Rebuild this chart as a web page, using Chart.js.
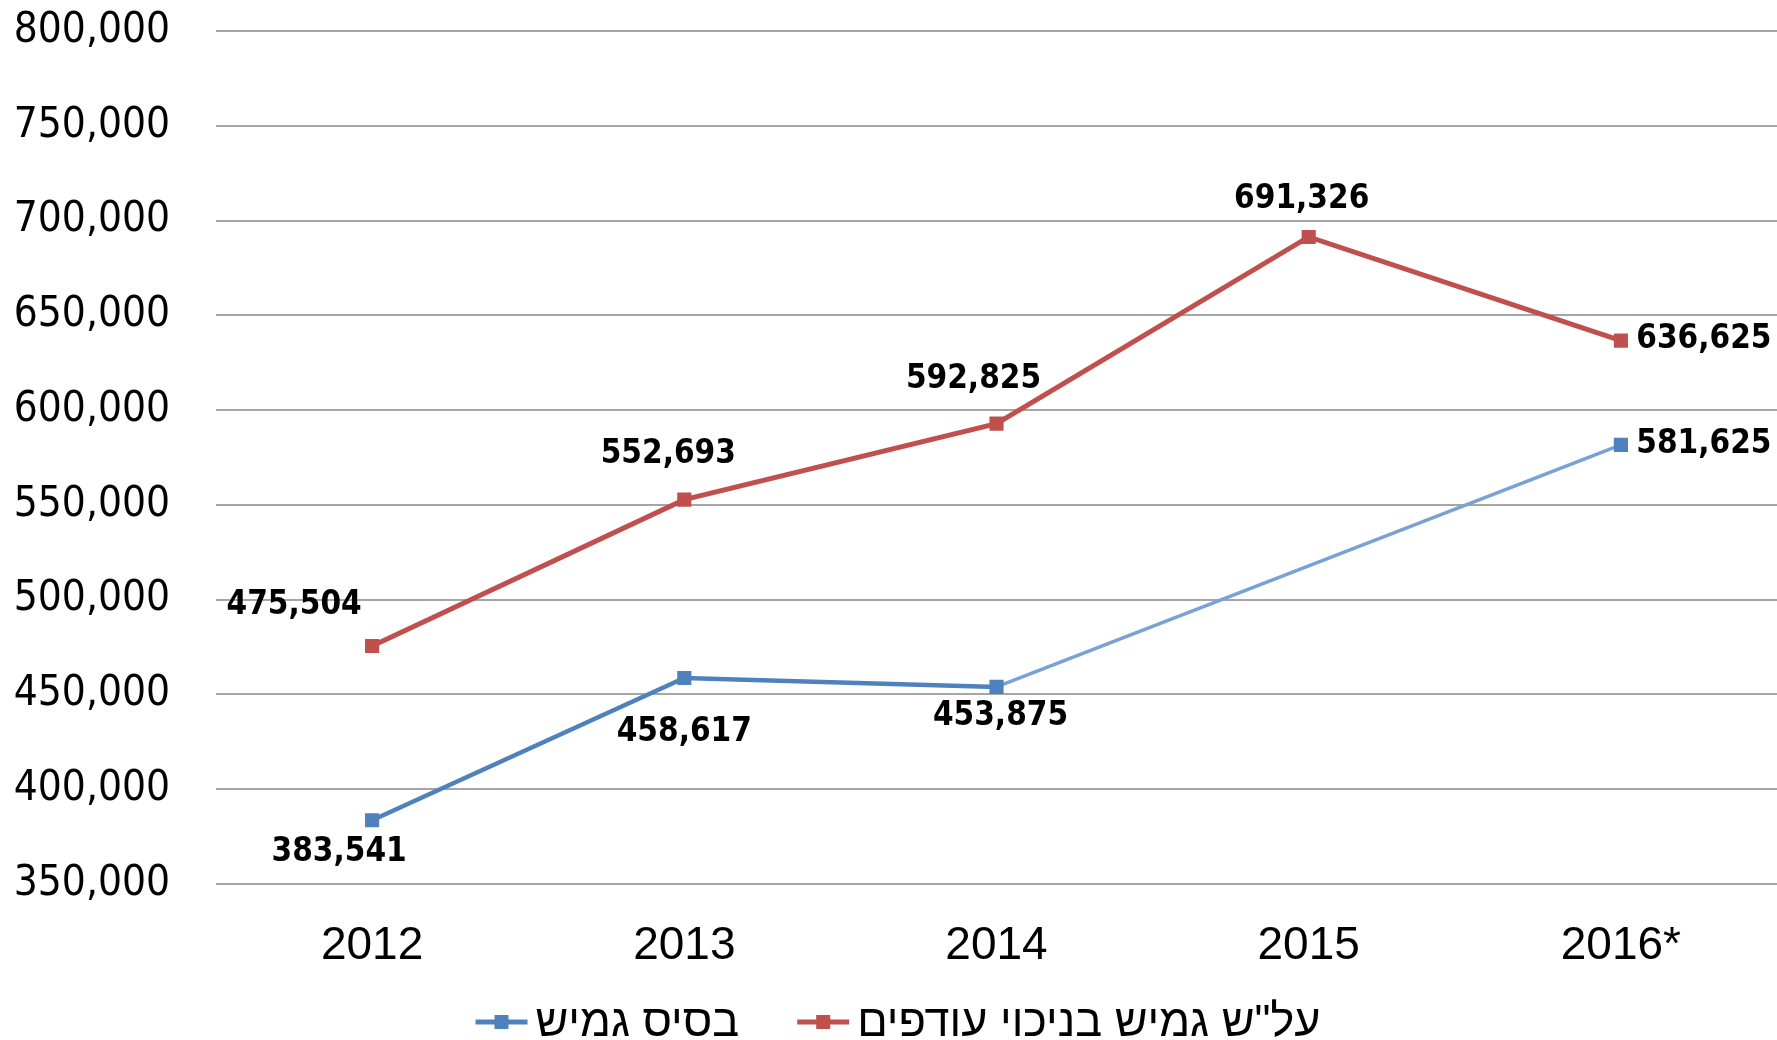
<!DOCTYPE html>
<html>
<head>
<meta charset="utf-8">
<script src="https://cdn.jsdelivr.net/npm/chart.js@4"></script>
<style>
  html, body { margin: 0; padding: 0; background: #fff; }
  #wrap { width: 1777px; height: 1040px; }
</style>
</head>
<body>
<div id="wrap"><canvas id="chart" width="1777" height="1040"></canvas></div>
<script>
// ===== DATA =====
const years = ['2012', '2013', '2014', '2015', '2016*'];
const flexBase = [383541, 458617, 453875, null, 581625];          // בסיס גמיש
const flexNetSurplus = [475504, 552693, 592825, 691326, 636625];  // על"ש גמיש בניכוי עודפים
const yTicks = [350000, 400000, 450000, 500000, 550000, 600000, 650000, 700000, 750000, 800000];

const seriesNames = ['בסיס גמיש', 'על"ש גמיש בניכוי עודפים'];

const BLUE = '#4f81bd';
const BLUE_LIGHT = '#78a2d6';
const RED = '#c0504d';

const NUM_FONT = "'DejaVu Sans Condensed', 'DejaVu Sans', sans-serif";
const TEXT_FONT = "'Liberation Sans', Arial, sans-serif";

// label placement relative to each point (centre of text)
const labelOffsets = [
    [[-33, 32], [0, 54], [4, 29], null, [83, 0]],
    [[-78, -41], [-16, -45], [-23, -44], [-7, -38], [83, -1]]
];

const fmt = v => v.toLocaleString('en-US');

// no extra padding around the axes, the plot area is set by layout.padding
const noPad = s => {
    s.paddingTop = 0; s.paddingBottom = 0;
    s.paddingLeft = 0; s.paddingRight = 0;
};

// draws the value next to every point
const valueLabels = {
    id: 'valueLabels',
    afterDatasetsDraw(chart) {
        const ctx = chart.ctx;
        ctx.save();
        ctx.font = `bold 33px ${NUM_FONT}`;
        ctx.fillStyle = '#000';
        ctx.textAlign = 'center';
        ctx.textBaseline = 'middle';
        chart.data.datasets.forEach((ds, di) => {
            const meta = chart.getDatasetMeta(di);
            meta.data.forEach((pt, i) => {
                const v = ds.data[i];
                const off = labelOffsets[di][i];
                if (v == null || !off) return;
                ctx.fillText(fmt(v), pt.x + off[0], pt.y + off[1]);
            });
        });
        ctx.restore();
    }
};

// legend at the bottom: line + square marker, then the Hebrew text
const bottomLegend = {
    id: 'bottomLegend',
    afterDraw(chart) {
        const ctx = chart.ctx;
        const y = 1022;
        const markerW = 52, gapText = 8, gapItem = 58;
        ctx.save();
        ctx.font = `45px ${TEXT_FONT}`;
        ctx.textBaseline = 'middle';
        ctx.textAlign = 'left';
        const items = chart.data.datasets.map(ds => ({
            text: ds.label,
            color: ds.borderColor,
            w: ctx.measureText(ds.label).width
        }));
        let total = 0;
        items.forEach((it, i) => {
            total += markerW + gapText + it.w + (i ? gapItem : 0);
        });
        let x = 898 - total / 2;
        items.forEach(it => {
            ctx.strokeStyle = it.color;
            ctx.lineWidth = 5;
            ctx.beginPath();
            ctx.moveTo(x, y);
            ctx.lineTo(x + markerW, y);
            ctx.stroke();
            ctx.fillStyle = it.color;
            ctx.fillRect(x + markerW / 2 - 7, y - 7, 14, 14);
            ctx.fillStyle = '#000';
            ctx.fillText(it.text, x + markerW + gapText, y + 2);
            x += markerW + gapText + it.w + gapItem;
        });
        ctx.restore();
    }
};

new Chart(document.getElementById('chart').getContext('2d'), {
    type: 'line',
    data: {
        labels: years,
        datasets: [
            {
                label: seriesNames[0],
                data: flexBase,
                borderColor: BLUE,
                backgroundColor: BLUE,
                borderWidth: 4.5,
                spanGaps: true,
                pointStyle: 'rect',
                pointRadius: 10,
                pointBorderWidth: 0,
                tension: 0,
                segment: {
                    borderColor: c => c.p0DataIndex >= 2 ? BLUE_LIGHT : BLUE,
                    borderWidth: c => c.p0DataIndex >= 2 ? 3.5 : 4.5
                }
            },
            {
                label: seriesNames[1],
                data: flexNetSurplus,
                borderColor: RED,
                backgroundColor: RED,
                borderWidth: 5,
                pointStyle: 'rect',
                pointRadius: 10,
                pointBorderWidth: 0,
                tension: 0
            }
        ]
    },
    options: {
        responsive: false,
        animation: false,
        layout: {
            autoPadding: false,
            padding: { top: 31, right: 0, bottom: 39, left: 0 }
        },
        plugins: {
            legend: { display: false },
            tooltip: { enabled: false }
        },
        scales: {
            x: {
                offset: true,
                afterFit: noPad,
                grid: { display: false },
                border: { display: false },
                ticks: {
                    color: '#000',
                    padding: 27,
                    maxRotation: 0,
                    font: { family: TEXT_FONT, size: 46 }
                }
            },
            y: {
                min: yTicks[0],
                max: yTicks[yTicks.length - 1],
                afterFit: s => { noPad(s); s.width = 216; },
                afterBuildTicks: s => { s.ticks = yTicks.map(v => ({ value: v })); },
                grid: { color: '#a6a6a6', lineWidth: 2, drawTicks: false },
                border: { display: false },
                ticks: {
                    color: '#000',
                    padding: 46,
                    font: { family: NUM_FONT, size: 42 },
                    callback: v => fmt(v)
                }
            }
        }
    },
    plugins: [valueLabels, bottomLegend]
});
</script>
</body>
</html>
